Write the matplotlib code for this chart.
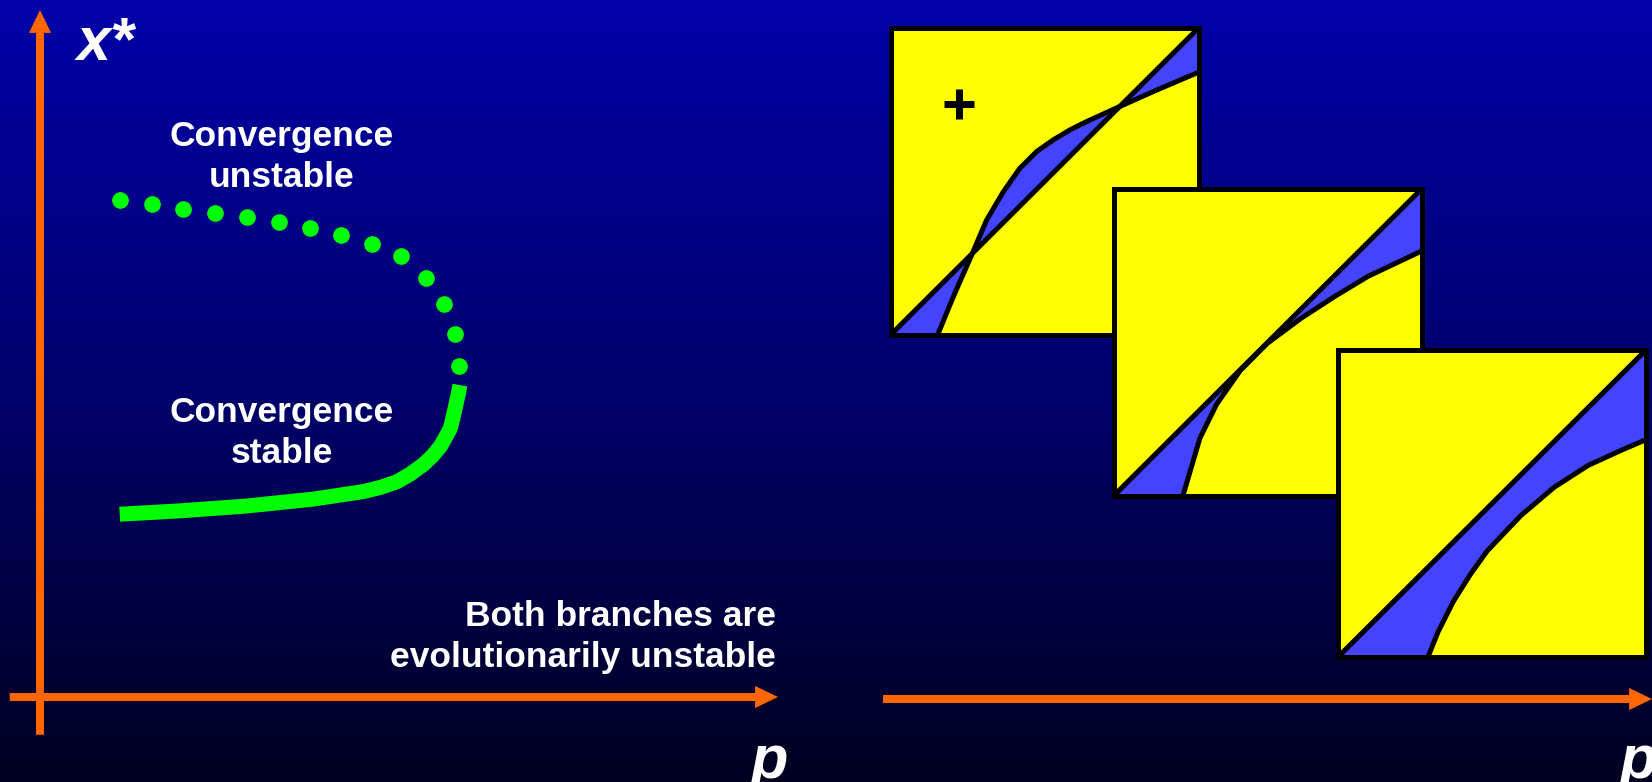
import numpy as np
import matplotlib
matplotlib.use('Agg')
import matplotlib.pyplot as plt
from matplotlib.colors import LinearSegmentedColormap

# left panel: singular strategy x* against parameter p (axes run 0..1)
unstable_p = [0.108, 0.152, 0.194, 0.237, 0.280, 0.324, 0.366, 0.408, 0.450, 0.489, 0.523, 0.547, 0.562, 0.568]
unstable_x = [0.723, 0.718, 0.710, 0.705, 0.699, 0.691, 0.683, 0.672, 0.659, 0.642, 0.610, 0.572, 0.528, 0.482]
stable_p = [0.108, 0.190, 0.280, 0.370, 0.438, 0.461, 0.483, 0.501, 0.519, 0.531, 0.542,
            0.549, 0.556, 0.559, 0.562, 0.567, 0.569]
stable_x = [0.266, 0.271, 0.278, 0.288, 0.299, 0.305, 0.313, 0.324, 0.338, 0.350, 0.364,
            0.377, 0.391, 0.404, 0.418, 0.442, 0.454]

label_unstable = "Convergence\nunstable"
label_stable = "Convergence\nstable"
label_note = "Both branches are\nevolutionarily unstable"

# right panel: three pairwise invasibility plots, boundary curve in unit square
pip1_x = [0.152, 0.201, 0.261, 0.310, 0.364, 0.418, 0.473, 0.527, 0.582, 0.636, 0.739, 0.853, 1.0]
pip1_y = [0.0, 0.120, 0.257, 0.372, 0.464, 0.541, 0.596, 0.634, 0.667, 0.694, 0.741, 0.792, 0.855]
pip2_x = [0.224, 0.279, 0.333, 0.410, 0.497, 0.607, 0.716, 0.825, 1.0]
pip2_y = [0.0, 0.187, 0.297, 0.407, 0.495, 0.577, 0.648, 0.714, 0.797]
pip3_x = [0.292, 0.325, 0.374, 0.429, 0.484, 0.593, 0.702, 0.812, 0.921, 1.0]
pip3_y = [0.0, 0.082, 0.180, 0.268, 0.345, 0.460, 0.553, 0.624, 0.674, 0.708]

ORANGE = '#FF6600'
GREEN = '#00FF00'
YELLOW = '#FFFF00'
BLUE = '#4444FF'

plt.rcParams['font.family'] = ['Liberation Sans', 'DejaVu Sans']
plt.rcParams['font.weight'] = 'bold'

W, H = 1652, 782
fig = plt.figure(figsize=(W / 100, H / 100), dpi=100, facecolor='#000040')

# background gradient
bg = fig.add_axes([0, 0, 1, 1])
cmap = LinearSegmentedColormap.from_list('bg', ['#000020', '#00006C', '#0000A8'])
bg.imshow(np.linspace(0, 1, 256).reshape(-1, 1)[::-1], cmap=cmap, aspect='auto',
          extent=[0, 1, 0, 1], interpolation='bicubic')
bg.set_xlim(0, 1)
bg.set_ylim(0, 1)
bg.axis('off')

# ---- left panel ----
ax = fig.add_axes([40 / W, 85 / H, 738 / W, 687 / H])
ax.set_xlim(0, 1)
ax.set_ylim(0, 1)
ax.axis('off')
ax.patch.set_alpha(0)

arrow = dict(width=5.8, headwidth=16, headlength=16.5, color=ORANGE, lw=0, shrink=0)
ax.annotate('', xy=(1.0, 0), xytext=(-0.041, 0), arrowprops=arrow, annotation_clip=False)
ax.annotate('', xy=(0, 1.0), xytext=(0, -0.055), arrowprops=arrow, annotation_clip=False)

ax.plot(unstable_p, unstable_x, ls='none', marker='o', ms=12, mew=0, color=GREEN, clip_on=False)
ax.plot(stable_p, stable_x, color=GREEN, lw=10.8, solid_capstyle='butt',
        solid_joinstyle='round', clip_on=False)

txt = dict(color='white', fontsize=25.5, fontweight='bold', linespacing=1.3)
ax.text(0.328, 0.7424, label_unstable, ha='center', va='baseline', multialignment='center', **txt)
ax.text(0.328, 0.3406, label_stable, ha='center', va='baseline', multialignment='center', **txt)
ax.text(0.9973, 0.0437, label_note, ha='right', va='baseline', multialignment='right', **txt)

big = dict(color='white', fontsize=44, fontweight='bold', fontstyle='italic')
ax.text(0.050, 0.927, 'x*', ha='left', va='baseline', **big)
ax.text(0.988, -0.118, 'p', ha='center', va='baseline', clip_on=False, **big)

# ---- right panel ----
bg.annotate('', xy=(1.0, 83 / H), xytext=(883 / W, 83 / H), arrowprops=arrow,
            annotation_clip=False)
bg.text(1638 / W, 4 / H, 'p', ha='center', va='baseline', **big)

sq_w, sq_h = 308 / W, 307 / H
corners = [(891, 334.5), (1114, 495.5), (1338, 657)]
curves = [(pip1_x, pip1_y), (pip2_x, pip2_y), (pip3_x, pip3_y)]

for i, ((cx, cy), (px, py)) in enumerate(zip(corners, curves)):
    sq = fig.add_axes([cx / W, (H - cy) / H, sq_w, sq_h])
    sq.set_facecolor(YELLOW)
    sq.set_xlim(0, 1)
    sq.set_ylim(0, 1)
    sq.set_xticks([])
    sq.set_yticks([])
    for s in sq.spines.values():
        s.set_linewidth(3.6)
        s.set_color('black')
    fx = np.array([0.0] + px)
    fy = np.array([0.0] + py)
    sq.fill_between(fx, fx, fy, color=BLUE, lw=0)
    sq.plot([0, 1], [0, 1], color='black', lw=3.6)
    sq.plot(px, py, color='black', lw=3.6, solid_joinstyle='round')
    if i == 0:
        sq.plot([0.22], [0.75], marker='+', ms=22, mew=5, color='black')

fig.savefig('out.png', dpi=100, facecolor=fig.get_facecolor())
